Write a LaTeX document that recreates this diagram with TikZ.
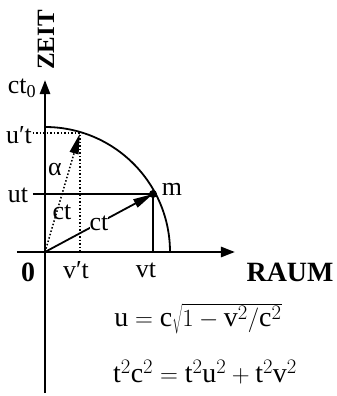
\documentclass[tikz,border=0pt]{standalone}
\usepackage{fontspec}
\setmainfont{Liberation Serif}
\usetikzlibrary{arrows.meta}

\begin{document}
\begin{tikzpicture}[
    x=1bp, y=1bp,
    axis/.style={draw, line width=2.6bp, -{Triangle[length=14bp, width=10bp]}},
    guide/.style={draw, line width=1.8bp},
    dotline/.style={draw, line width=1.5bp, dotted},
    vec/.style={-{Triangle[length=20bp, width=9bp]}},
    lbl/.style={font=\fontsize{26}{28}\selectfont, inner sep=1bp},
    formula/.style={font=\fontsize{28}{30}\selectfont, inner sep=1bp},
    title/.style={font=\fontsize{28}{30}\selectfont\bfseries, inner sep=0pt}
]
    \useasboundingbox (-45,-144) rectangle (292,252);

    \coordinate (O) at (0,0);
    \coordinate (ytop) at (0,172);
    \coordinate (ybot) at (0,-141);
    \coordinate (xleft) at (-28,0);
    \coordinate (xright) at (190,0);
    \coordinate (m) at (108,58);
    \coordinate (mx) at (108,0);
    \coordinate (ut) at (-12,58);
    \coordinate (up) at (35,119);
    \coordinate (upl) at (-12,119);
    \coordinate (upx) at (35,0);

    % axes
    \draw[axis] (ybot) -- (ytop);
    \draw[axis] (xleft) -- (xright);

    % circle of radius ct
    \draw[guide] (0,125) arc[start angle=90, end angle=0, radius=125];

    \draw[guide] (ut) -- (m);
    \draw[guide] (m) -- (mx);
    \draw[dotline] (upl) -- (up) -- (upx);
    \draw[dotline, vec, shorten >=1bp] (O) -- (up);
    \draw[guide, vec] (O) -- node[lbl, fill=white, inner sep=0pt] (ct2) {ct} (m);
    \node[circle, fill, inner sep=0pt, minimum size=8bp] (mdot) at (m) {};

    % labels
    \node[title, font=\fontsize{25}{27}\selectfont\bfseries, rotate=90] (zeit) at (1,212) {ZEIT};
    \node[lbl] (ct0) at (-23,164) {ct\textsubscript{0}};
    \node[lbl] (uplbl) at (-26,117) {u′t};
    \node[lbl] (utlbl) at (-27,57) {ut};
    \node[lbl] (alpha) at (10,82) {α};
    \node[lbl] (ct1) at (17,40) {ct};
    \node[lbl] (mlbl) at (127,63) {m};
    \node[title] (zero) at (-17,-20) {0};
    \node[lbl] (vplbl) at (31,-18) {v′t};
    \node[lbl] (vtlbl) at (101,-18) {vt};
    \node[title] (raum) at (245,-20) {RAUM};
    \node[formula] (eq1) at (153,-67) {$\mathrm{u}=\mathrm{c}\sqrt{1-\mathrm{v}^2/\mathrm{c}^2}$};
    \node[formula] (eq2) at (160,-120) {$\mathrm{t}^2\mathrm{c}^2=\mathrm{t}^2\mathrm{u}^2+\mathrm{t}^2\mathrm{v}^2$};
\end{tikzpicture}
\end{document}
